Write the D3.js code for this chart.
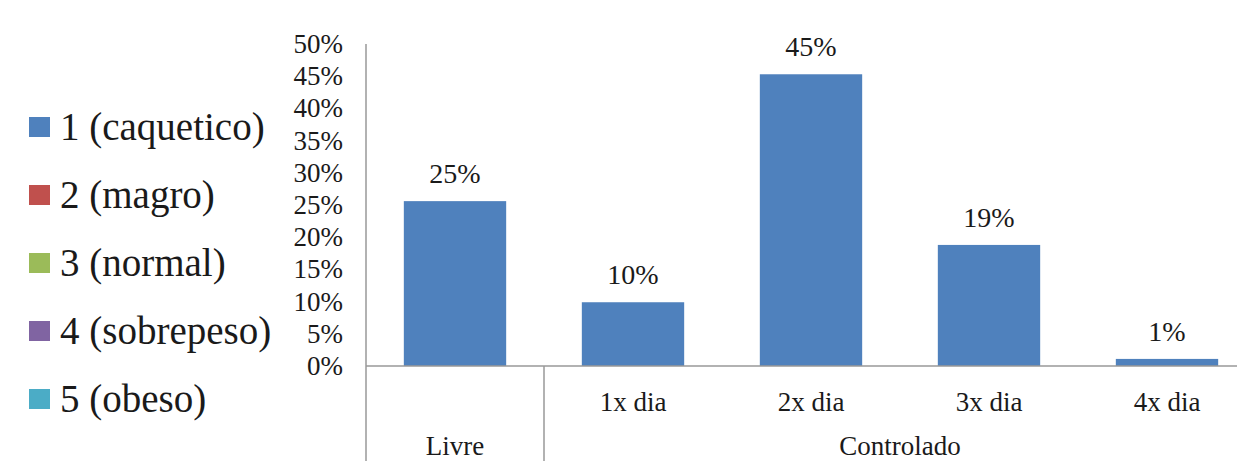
<!DOCTYPE html>
<html><head>
<script src="https://cdn.jsdelivr.net/npm/d3@7"></script>
</head><body style="margin:0;background:#fff"><svg id="c" width="1237" height="461" style="display:block"></svg>
<script>
const categories = ["Livre","1x dia","2x dia","3x dia","4x dia"];
const groups = [{name:"Livre", from:0, to:1},{name:"Controlado", from:1, to:5}];
const values = [0.256, 0.099, 0.453, 0.188, 0.011];
const valueLabels = ["25%","10%","45%","19%","1%"];
const yTicks = [0,0.05,0.10,0.15,0.20,0.25,0.30,0.35,0.40,0.45,0.50];
const legendItems = ["1 (caquetico)","2 (magro)","3 (normal)","4 (sobrepeso)","5 (obeso)"];
const legendColors = ["#4F81BD","#C0504D","#9BBB59","#8064A2","#4BACC6"];

const svg = d3.select("#c");
const txt = "#1a1a1a";
const x0 = 366, x1 = 366 + 178*5, yTop = 44, yBase = 366;
const x = d3.scaleBand().domain(categories).range([x0, x1]).paddingInner(0.425).paddingOuter(0.2125);
const y = d3.scaleLinear().domain([0,0.5]).range([yBase, yTop]);
const axisColor = "#999";

function T(sel, size){ return sel.style("font-family",'"Liberation Serif"').attr("font-size",size).attr("fill",txt); }

// y tick labels
T(svg.append("g").selectAll("text").data(yTicks).join("text")
  .attr("x", 343).attr("y", d => y(d) + 9), 27)
  .style("text-anchor","end")
  .text(d => d3.format(".0%")(d));

// bars
svg.append("g").selectAll("rect").data(values).join("rect")
  .attr("x",(d,i)=>x(categories[i])).attr("width",x.bandwidth())
  .attr("y",d=>y(d)).attr("height",d=>yBase-y(d)).attr("fill","#4F81BD");

// value labels
T(svg.append("g").selectAll("text").data(values).join("text")
  .attr("x",(d,i)=>x(categories[i])+x.bandwidth()/2).attr("y",d=>y(d)-18), 28)
  .style("text-anchor","middle")
  .text((d,i)=>valueLabels[i]);

// axis lines
svg.append("line").attr("x1",x0).attr("x2",x0).attr("y1",yTop).attr("y2",461).attr("stroke",axisColor).attr("stroke-width",1.5);
svg.append("line").attr("x1",x0).attr("x2",x1).attr("y1",yBase).attr("y2",yBase).attr("stroke",axisColor).attr("stroke-width",1.5);
const step = x.step();
groups.forEach(g => {
  const bx = x0 + step*g.to;
  svg.append("line").attr("x1",bx).attr("x2",bx).attr("y1",yBase).attr("y2",461).attr("stroke",axisColor).attr("stroke-width",1.5);
});

// category labels
categories.forEach((c,i) => {
  if (i === 0) return;
  T(svg.append("text").attr("x",x(c)+x.bandwidth()/2).attr("y",411), 27).style("text-anchor","middle").text(c);
});
groups.forEach(g => {
  const cx = g.name === "Controlado" ? 900 : x0 + step*(g.from+g.to)/2;
  T(svg.append("text").attr("x",cx).attr("y",455), 27).style("text-anchor","middle").text(g.name);
});

// legend
const lg = svg.append("g");
legendItems.forEach((t,i) => {
  const cy = 127 + i*68;
  lg.append("rect").attr("x",29).attr("y",cy-10).attr("width",21).attr("height",20).attr("fill",legendColors[i]);
  T(lg.append("text").attr("x",60).attr("y",cy+13), 39).text(t);
});
</script></body></html>
